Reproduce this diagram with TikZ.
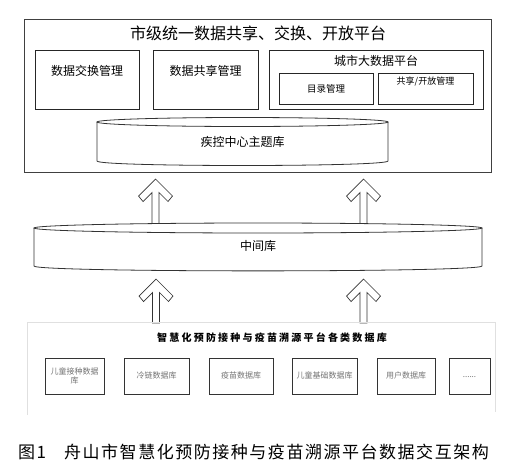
\documentclass[tikz,border=0pt]{standalone}
\usepackage{fontspec}
\setmainfont{Noto Sans CJK SC}
\newfontfamily\cjk{Noto Sans CJK SC}
\newfontfamily\cjkspaced[LetterSpace=22]{Noto Sans CJK SC}
\newfontfamily\capfont[LetterSpace=9]{Noto Sans CJK SC}
\begin{document}
\begin{tikzpicture}[x=1pt,y=-1pt,
  frame/.style={draw=black!75,line width=0.8pt},
  box/.style={draw=black!85,line width=0.8pt,inner sep=0pt},
  dbbox/.style={draw=black!80,line width=0.8pt,inner sep=0pt,minimum width=#1,minimum height=36pt},
  dbtext/.style={font=\cjk\fontsize{8}{9}\selectfont,text=black!55,align=center},
  lbl/.style={inner sep=0pt,font=\cjk\fontsize{12}{14}\selectfont},
  cyl/.style={draw=black!80,line width=0.8pt},
  blockarrow/.style={draw=black!80,line width=0.7pt,fill=white,line join=miter}
]
\useasboundingbox (0,0) rectangle (525,469);

% top platform
\node[frame,minimum width=467pt,minimum height=153pt,inner sep=0pt] (outer) at (257.5,95.5) {};
\node[inner sep=0pt,font=\cjk\fontsize{16}{18}\selectfont] (title) at (258,33) {市级统一数据共享、交换、开放平台};

\node[box,minimum width=104pt,minimum height=59pt] (b1) at (87,79.5) {};
\node[lbl] (t1) at (87,71) {数据交换管理};
\node[box,minimum width=105pt,minimum height=59pt] (b2) at (205.5,79.5) {};
\node[lbl] (t2) at (205.5,71) {数据共享管理};
\node[box,minimum width=214pt,minimum height=59pt] (b3) at (376,79.5) {};
\node[lbl] (t3) at (376,61) {城市大数据平台};
\node[box,minimum width=94pt,minimum height=31pt] (b3a) at (326,88.5) {};
\node[inner sep=0pt,font=\cjk\fontsize{9.5}{11}\selectfont] (t3a) at (326,89) {目录管理};
\node[box,minimum width=95pt,minimum height=31pt] (b3b) at (425.5,88.5) {};
\node[inner sep=0pt,font=\cjk\fontsize{9}{11}\selectfont] (t3b) at (425.5,81) {共享/开放管理};

% cylinder 1
\draw[cyl] (242.5,122) ellipse [x radius=145.5, y radius=4.5];
\draw[cyl] (97,122) -- (97,161) .. controls (97,167) and (388,167) .. (388,161) -- (388,122);
\node[lbl] (c1) at (242.5,142) {疾控中心主题库};

% upper arrows
\foreach \cx/\tp/\L/\nm in {155.5/179/45/ua1, 363.5/179/45/ua2, 156/279/44/la1, 363.5/279/44/la2}{
  \draw[blockarrow] (\cx,\tp) -- ++(17,17) -- ++(-4.5,5.5) -- ++(-9,-9) -- (\cx+3.5,\tp+\L)
     -- (\cx-3.5,\tp+\L) -- (\cx-3.5,\tp+13.5) -- ++(-9,9) -- ++(-4.5,-5.5) -- cycle;
  \coordinate (\nm) at (\cx,\tp);
}

% cylinder 2
\draw[cyl,fill=white] (34,228) -- (34,266) .. controls (34,272.5) and (482,272.5) .. (482,266) -- (482,228);
\draw[cyl,fill=white] (258,228) ellipse [x radius=224, y radius=5];
\node[lbl] (c2) at (258,246) {中间库};

% bottom container
\draw[draw=black!12,line width=0.8pt] (27,415) -- (27,322.5) -- (495,322.5) -- (495,412);
\node[inner sep=0pt,font=\cjkspaced\bfseries\fontsize{10}{12}\selectfont] (t4) at (272,338) {智慧化预防接种与疫苗溯源平台各类数据库};

\node[dbbox=59pt] (d1) at (74.5,376) {};
\node[dbtext] (dt1) at (74.5,376) {儿童接种数据\\库};
\node[dbbox=65pt] (d2) at (156.5,376) {};
\node[dbtext] (dt2) at (156.5,375) {冷链数据库};
\node[dbbox=64pt] (d3) at (241,376) {};
\node[dbtext] (dt3) at (241,375) {疫苗数据库};
\node[dbbox=65pt] (d4) at (324.5,376) {};
\node[dbtext] (dt4) at (324.5,375) {儿童基础数据库};
\node[dbbox=58pt] (d5) at (406,376) {};
\node[dbtext] (dt5) at (406,375) {用户数据库};
\node[dbbox=41pt] (d6) at (469.5,376) {};
\node[dbtext] (dt6) at (469.5,377) {......};

% caption
\node[anchor=west,inner sep=0pt,font=\capfont\fontsize{17}{19}\selectfont] (cap) at (18,452) {图1\hspace{18pt}舟山市智慧化预防接种与疫苗溯源平台数据交互架构};
\end{tikzpicture}
\end{document}
